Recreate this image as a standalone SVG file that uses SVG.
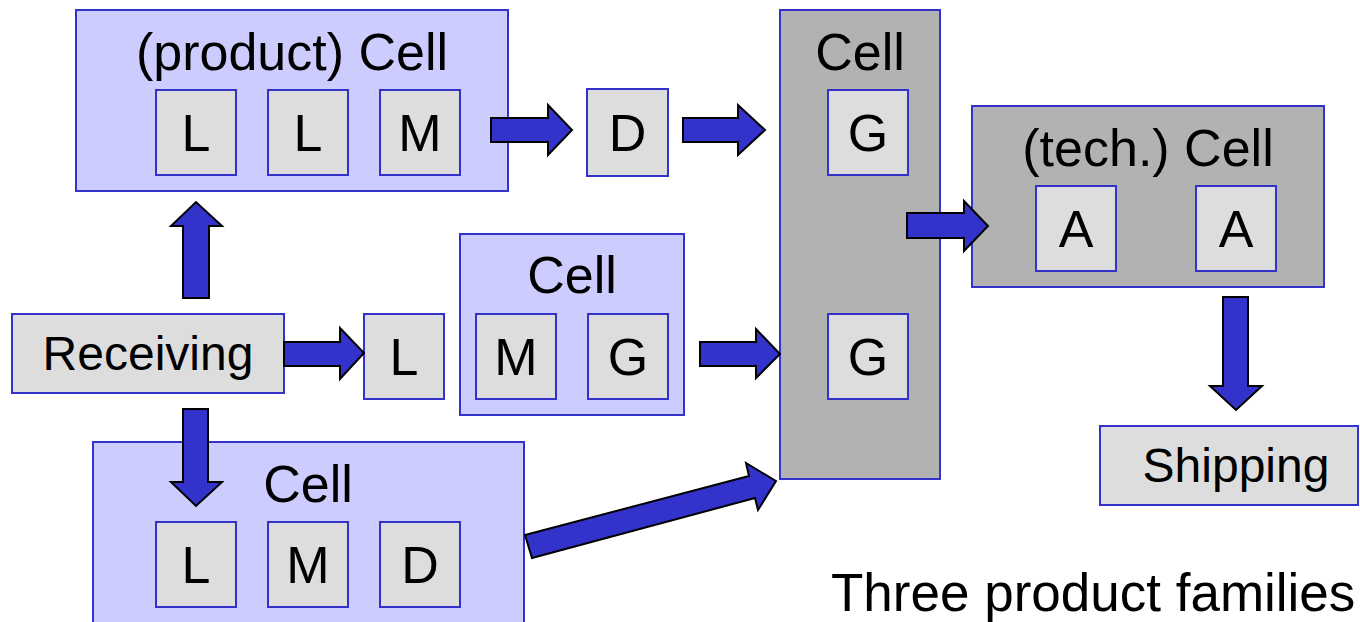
<svg xmlns="http://www.w3.org/2000/svg" width="1360" height="622" viewBox="0 0 1360 622">
<style>
.cell{fill:#CCCCFF;stroke:#3333CC;stroke-width:2}
.gcell{fill:#B2B2B2;stroke:#3333CC;stroke-width:2}
.box{fill:#DDDDDD;stroke:#3333CC;stroke-width:2}
.arr{fill:#3333CC;stroke:#000;stroke-width:2;stroke-linejoin:miter}
text{font-family:"Liberation Sans",Arial,sans-serif;fill:#000;text-anchor:middle}
.t52{font-size:52px}
.t48{font-size:48px}
</style>
<rect width="1360" height="622" fill="#fff"/>
<g id="product-cell">
<rect class="cell" x="76" y="10" width="432" height="181"/>
<text class="t52" x="292" y="70">(product) Cell</text>
<rect class="box" x="156" y="90" width="80" height="85"/><text class="t52" x="196" y="151">L</text>
<rect class="box" x="268" y="90" width="80" height="85"/><text class="t52" x="308" y="151">L</text>
<rect class="box" x="380" y="90" width="80" height="85"/><text class="t52" x="420" y="151">M</text>
</g>
<g id="d-box">
<rect class="box" x="587" y="89" width="81" height="87"/><text class="t52" x="627.5" y="151">D</text>
</g>
<g id="g-column">
<rect class="gcell" x="780" y="10" width="160" height="469"/>
<text class="t52" x="860" y="70">Cell</text>
<rect class="box" x="828" y="90" width="80" height="85"/><text class="t52" x="868" y="151">G</text>
<rect class="box" x="828" y="314" width="80" height="85"/><text class="t52" x="868" y="375">G</text>
</g>
<g id="tech-cell">
<rect class="gcell" x="972" y="106" width="352" height="181"/>
<text class="t52" x="1148" y="166">(tech.) Cell</text>
<rect class="box" x="1036" y="186" width="80" height="85"/><text class="t52" x="1076" y="247">A</text>
<rect class="box" x="1196" y="186" width="80" height="85"/><text class="t52" x="1236" y="247">A</text>
</g>
<g id="receiving">
<rect class="box" x="12" y="314" width="272" height="79"/>
<text class="t48" x="148" y="370">Receiving</text>
</g>
<g id="l-box">
<rect class="box" x="364" y="314" width="80" height="85"/><text class="t52" x="404" y="375">L</text>
</g>
<g id="middle-cell">
<rect class="cell" x="460" y="234" width="224" height="181"/>
<text class="t52" x="572" y="293">Cell</text>
<rect class="box" x="476" y="314" width="80" height="85"/><text class="t52" x="516" y="375">M</text>
<rect class="box" x="588" y="314" width="80" height="85"/><text class="t52" x="628" y="375">G</text>
</g>
<g id="bottom-cell">
<rect class="cell" x="93" y="442" width="431" height="200"/>
<text class="t52" x="308" y="502">Cell</text>
<rect class="box" x="156" y="522" width="80" height="85"/><text class="t52" x="196" y="583">L</text>
<rect class="box" x="268" y="522" width="80" height="85"/><text class="t52" x="308" y="583">M</text>
<rect class="box" x="380" y="522" width="80" height="85"/><text class="t52" x="420" y="583">D</text>
</g>
<g id="shipping">
<rect class="box" x="1100" y="426" width="258" height="79"/>
<text class="t48" x="1236" y="482">Shipping</text>
</g>
<g id="connectors">
<polygon class="arr" points="491,118 548,118 548,105 572,130 548,155 548,142 491,142"/>
<polygon class="arr" points="683,118 738,118 738,105 765,130 738,155 738,142 683,142"/>
<polygon class="arr" points="907,213 964,213 964,201 988,226 964,251 964,238 907,238"/>
<polygon class="arr" points="284,342 340,342 340,328 364,353 340,379 340,366 284,366"/>
<polygon class="arr" points="700,342 756,342 756,329 780,354 756,378 756,366 700,366"/>
<polygon class="arr" points="183,298 183,226 171,226 196,202 222,226 209,226 209,298"/>
<polygon class="arr" points="183,409 208,409 208,482 222,482 196,506 171,482 183,482"/>
<polygon class="arr" points="1223,297 1248,297 1248,386 1262,386 1236,410 1210,386 1223,386"/>
<polygon class="arr" points="525,535 749,476 746,463 776,481 758,510 755,498 532,558"/>
</g>
<text x="831" y="611" style="text-anchor:start;font-size:53px">Three product families</text>
</svg>
